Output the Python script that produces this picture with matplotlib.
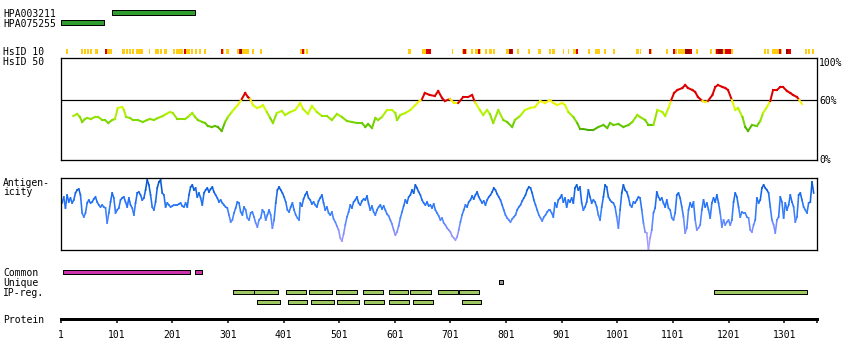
import matplotlib.pyplot as plt
import numpy as np
from matplotlib.collections import LineCollection
from matplotlib.colors import LinearSegmentedColormap

W, H = 850, 360
seq_len = 1360

# antibody epitope regions (residues)
hpa003211 = [(93, 242)]
hpa075255 = [(1, 78)]

# HsID 10 blocks (start, end) residues
hs10_yellow = [(10, 14), (37, 41), (42, 46), (48, 51), (53, 57), (62, 68), (84, 93),
               (111, 116), (118, 121), (123, 127), (129, 132), (136, 148), (159, 161),
               (170, 177), (179, 183), (186, 192), (202, 206), (208, 220), (226, 233),
               (235, 238), (242, 246), (249, 253), (258, 262), (292, 294), (298, 303),
               (317, 321), (327, 339), (344, 348), (359, 363), (431, 434), (438, 440),
               (442, 445), (625, 630), (650, 657), (704, 706), (722, 724), (729, 731),
               (738, 742), (745, 751), (754, 756), (763, 767), (771, 776), (778, 781),
               (801, 807), (821, 825), (841, 844), (859, 864), (878, 882), (884, 889),
               (904, 905), (913, 914), (922, 927), (949, 952), (961, 970), (977, 981),
               (993, 997), (1035, 1040), (1042, 1044), (1062, 1064), (1089, 1093),
               (1105, 1109), (1110, 1123), (1143, 1146), (1168, 1172), (1177, 1179),
               (1191, 1195), (1206, 1209), (1265, 1269), (1270, 1274), (1279, 1292),
               (1296, 1297), (1338, 1342), (1344, 1347), (1351, 1355)]
hs10_red = [(80, 84), (222, 226), (289, 292), (321, 323), (434, 438), (657, 666),
            (724, 729), (751, 754), (812, 814), (927, 931), (1058, 1062), (1101, 1105),
            (1132, 1136), (1179, 1182), (1190, 1191), (1195, 1206), (1292, 1296),
            (1308, 1314)]
hs10_dark = [(323, 327), (807, 812), (1123, 1132), (1182, 1190), (1305, 1308)]

# HsID 50 (% identity)
id50_pos = [23, 30, 35, 39, 44, 48, 55, 62, 68, 75, 80, 86, 93, 98, 103, 111, 114, 118, 125,
            130, 139, 148, 156, 161, 168, 175, 184, 190, 197, 202, 210, 215, 224, 229, 237,
            242, 247, 255, 260, 265, 272, 278, 283, 290, 296, 301, 308, 314, 319, 326, 332,
            337, 341, 346, 353, 359, 364, 371, 377, 382, 389, 398, 404, 413, 422, 431, 436,
            445, 452, 461, 470, 479, 488, 497, 506, 515, 524, 533, 542, 548, 553, 560, 566,
            571, 578, 587, 596, 602, 605, 611, 620, 629, 638, 643, 650, 655, 664, 673, 679,
            686, 691, 700, 708, 715, 724, 733, 740, 745, 754, 760, 767, 772, 778, 787, 796,
            803, 812, 817, 826, 835, 844, 853, 862, 871, 880, 886, 893, 902, 907, 913, 922,
            929, 934, 940, 949, 958, 967, 976, 983, 988, 994, 1003, 1012, 1021, 1028, 1037,
            1042, 1051, 1057, 1066, 1073, 1082, 1087, 1093, 1098, 1103, 1109, 1118, 1123,
            1128, 1136, 1141, 1146, 1154, 1159, 1164, 1172, 1177, 1182, 1190, 1195, 1200,
            1207, 1213, 1218, 1226, 1231, 1236, 1243, 1252, 1258, 1263, 1270, 1276, 1281,
            1288, 1294, 1299, 1306, 1312, 1317, 1324, 1328, 1333]
id50_val = [44, 46, 43, 38, 41, 42, 41, 43, 43, 40, 40, 37, 40, 41, 52, 53, 50, 43, 42,
            40, 40, 38, 40, 41, 40, 42, 44, 46, 48, 47, 41, 41, 41, 43, 47,
            43, 40, 38, 37, 34, 33, 34, 33, 29, 38, 43, 48, 52, 55, 61, 67,
            63, 61, 55, 52, 53, 55, 48, 42, 37, 47, 49, 45, 48, 50, 57, 51,
            46, 54, 48, 44, 44, 40, 46, 43, 39, 38, 37, 37, 33, 36, 32, 42,
            40, 43, 50, 50, 47, 40, 45, 47, 50, 55, 58, 61, 67, 65, 64, 69,
            62, 59, 61, 57, 57, 63, 63, 65, 58, 50, 45, 50, 46, 37, 50, 40,
            38, 33, 40, 44, 50, 52, 53, 59, 57, 60, 57, 55, 57, 55, 48, 43,
            37, 31, 31, 30, 30, 33, 35, 32, 37, 35, 36, 33, 35, 38, 45,
            43, 40, 35, 35, 50, 48, 44, 52, 60, 67, 70, 72, 75,
            72, 70, 68, 63, 59, 58, 59, 65, 73, 75, 73, 72, 70,
            60, 50, 52, 43, 33, 29, 35, 34, 39, 47, 53, 59, 70,
            70, 73, 73, 69, 67, 65, 63, 60, 56]

# antigenicity score, every 3rd residue, in three read-off stretches
antig_a_start = 3
antig_a = [47, 53, 42, 55, 48, 52, 47, 50, 57, 60, 61, 55, 37, 33, 37, 47, 50, 47, 48, 51,
           53, 48, 45, 43, 45, 43, 42, 27, 37, 48, 57, 52, 37, 40, 42, 50, 52, 53, 48, 43,
           52, 45, 42, 35, 47, 57, 58, 55, 50, 52, 60, 70, 65, 55, 43, 40, 48, 62, 68, 70,
           57, 55, 43, 47, 45, 43, 44, 45, 45, 45, 46, 47, 44, 43, 47, 43, 55, 63, 65, 60,
           62, 53, 57, 52, 45, 57, 60, 62, 58, 61, 63, 58, 55, 52, 48, 50, 47, 45, 43, 42,
           35, 28, 30, 37, 42, 48, 47, 38, 35, 43, 40, 32, 30, 37, 38, 33, 27, 23, 30, 32,
           40, 38, 30, 35, 40, 35, 22, 30, 47, 60, 63, 60, 57, 53, 48, 40, 38, 43, 47, 40,
           35, 32, 30]
antig_b_start = 431
antig_b = [47, 44, 51, 55, 58, 52, 50, 46, 48, 45, 43, 49, 52, 55, 47, 40, 43, 37, 35, 38,
           31, 28, 24, 20, 12, 9, 16, 25, 33, 38, 45, 42, 48, 50, 53, 47, 45, 49, 51, 50,
           54, 46, 40, 44, 38, 35, 40, 43, 45, 41, 44, 40, 36, 34, 30, 26, 20, 15, 18, 24,
           32, 38, 44, 50, 47, 53, 55, 60, 57, 65, 62, 58, 55, 50, 47, 45, 48, 44, 45, 42,
           46, 40, 37, 34, 30, 32, 27, 25, 22, 20, 18, 14, 12, 10, 13, 20, 28, 35, 40, 45,
           43, 48, 50, 54, 51, 55, 58, 53, 50, 47, 49, 45, 50, 53, 55, 58, 62, 60, 56, 53,
           50, 45, 40, 35, 32, 30, 28, 31, 33, 35, 40, 43, 45, 49, 52, 55, 60, 63, 62, 57,
           50, 45, 40, 35, 32, 29, 33, 35, 38, 40]
antig_c_start = 880
antig_c = [40, 37, 33, 47, 43, 50, 52, 55, 48, 52, 43, 50, 48, 52, 47, 62, 65, 60, 63, 47,
           40, 43, 48, 60, 53, 47, 50, 48, 43, 35, 30, 43, 53, 65, 63, 53, 50, 48, 47, 43,
           33, 22, 40, 57, 65, 60, 58, 53, 45, 43, 48, 47, 50, 53, 52, 40, 27, 18, 17, 0,
           12, 20, 37, 42, 58, 53, 50, 52, 47, 43, 50, 42, 40, 32, 30, 37, 55, 57, 52, 43,
           33, 17, 22, 40, 47, 43, 48, 30, 20, 22, 25, 40, 50, 43, 47, 40, 32, 47, 52, 48,
           55, 47, 37, 23, 30, 25, 28, 30, 25, 30, 48, 57, 53, 43, 33, 38, 37, 37, 33, 32,
           20, 18, 25, 30, 52, 47, 50, 62, 65, 62, 60, 57, 43, 30, 25, 17, 30, 33, 53, 48,
           32, 47, 40, 45, 55, 48, 43, 28, 33, 55, 57, 50, 43, 40, 37, 47, 48, 68, 57]
antig_step = 3

common = [(4, 233), (242, 254)]
unique = [(789, 796)]
ipreg_row1 = [(311, 348), (348, 391), (405, 441), (447, 489), (496, 533), (543, 579),
              (590, 624), (629, 666), (679, 714), (717, 752), (1174, 1342)]
ipreg_row2 = [(354, 394), (409, 444), (451, 492), (498, 536), (546, 582), (591, 627),
              (633, 669), (721, 756)]
prot_ticks = [1, 101, 201, 301, 401, 501, 601, 701, 801, 901, 1001, 1101, 1201, 1301]

FONT = dict(family='DejaVu Sans Mono', size=7, color='black')
PX = 0.72  # points per pixel at 100 dpi

fig = plt.figure(figsize=(W / 100, H / 100), dpi=100)


def ax_px(x0, y0, x1, y1):
    return fig.add_axes([x0 / W, 1 - y1 / H, (x1 - x0) / W, (y1 - y0) / H])


def label(x, y, s, ha='left'):
    fig.text(x / W, 1 - y / H, s, ha=ha, va='baseline', **FONT)


def spans(pairs):
    return [(a, b - a) for a, b in pairs]


# tracks drawn in pixel rows
tr = ax_px(61, 0, 817, H)
tr.set_xlim(1, seq_len)
tr.set_ylim(H, 0)
tr.axis('off')
bar_kw = dict(edgecolor='black', linewidth=PX)
tr.broken_barh(spans(hpa003211), (10, 5), facecolor='#2f9e2f', **bar_kw)
tr.broken_barh(spans(hpa075255), (20, 5), facecolor='#2f9e2f', **bar_kw)
tr.broken_barh(spans(hs10_yellow), (49, 5), facecolor='#ffcc11')
tr.broken_barh(spans(hs10_red), (49, 5), facecolor='#dd0000')
tr.broken_barh(spans(hs10_dark), (49, 5), facecolor='#990000')
tr.broken_barh(spans(common), (270, 4), facecolor='#cc33aa', **bar_kw)
tr.broken_barh(spans(unique), (280, 4), facecolor='#999999', **bar_kw)
tr.broken_barh(spans(ipreg_row1), (290, 4), facecolor='#9dc862', **bar_kw)
tr.broken_barh(spans(ipreg_row2), (300, 4), facecolor='#9dc862', **bar_kw)


def colored_line(ax, x, y, colors, lw):
    pts = np.column_stack([x, y])
    segs = np.stack([pts[:-1], pts[1:]], axis=1)
    ax.add_collection(LineCollection(segs, colors=colors, linewidth=lw, capstyle='projecting'))


# HsID 50 panel
a50 = ax_px(61, 58, 817, 160)
a50.set_xlim(1, seq_len)
a50.set_ylim(0, 102)
a50.axhline(60, color='black', linewidth=PX * 1.2)
id50_cmap = LinearSegmentedColormap.from_list(
    'id50', ['#3d9900', '#66cc00', '#99e600', '#ccff00', '#ffee00'])
v = np.array(id50_val, float)
mid = (v[:-1] + v[1:]) / 2
cols = id50_cmap(np.clip((mid - 27) / 33, 0, 1))
cols[mid >= 60] = (0.87, 0, 0, 1)
colored_line(a50, np.array(id50_pos, float), v, cols, 2 * PX)
a50.set_xticks([])
a50.set_yticks([])
for s in a50.spines.values():
    s.set_linewidth(1.3 * PX)
label(819, 66, '100%')
label(819, 103.5, '60%')
label(819, 163.5, '0%')

# antigenicity panel
aa = ax_px(61, 178, 817, 250)
aa.set_xlim(1, seq_len)
aa.set_ylim(0, 72)
ant_cmap = LinearSegmentedColormap.from_list(
    'ant', ['#b4a8ff', '#8c90ff', '#3c82ff', '#1a6cf2', '#0050c4'])
ant_pos = np.concatenate([antig_a_start + antig_step * np.arange(len(antig_a)),
                          antig_b_start + antig_step * np.arange(len(antig_b)),
                          antig_c_start + antig_step * np.arange(len(antig_c))])
av = np.array(antig_a + antig_b + antig_c, float)
amid = (av[:-1] + av[1:]) / 2
colored_line(aa, ant_pos, av, ant_cmap(np.clip(amid / 70, 0, 1)), 1.6 * PX)
aa.set_xticks([])
aa.set_yticks([])
for s in aa.spines.values():
    s.set_linewidth(1.3 * PX)

# protein axis
ap = ax_px(61, 300, 817, 319)
ap.set_xlim(1, seq_len)
ap.set_ylim(0, 1)
for side in ['top', 'left', 'right']:
    ap.spines[side].set_visible(False)
ap.spines['bottom'].set_linewidth(3 * PX)
ap.patch.set_visible(False)
ap.set_yticks([])
ap.set_xticks(prot_ticks)
ap.set_xticks([seq_len], minor=True)
ap.tick_params(axis='x', which='both', direction='out', length=4 * PX, width=1.5 * PX,
               labelsize=7, pad=7 * PX)
for t in ap.get_xticklabels():
    t.set_family('DejaVu Sans Mono')

# row labels
label(3, 17, 'HPA003211')
label(3, 27, 'HPA075255')
label(3, 55, 'HsID 10')
label(3, 65, 'HsID 50')
label(3, 186, 'Antigen-')
label(3, 195.5, 'icity')
label(3, 276, 'Common')
label(3, 286, 'Unique')
label(3, 296, 'IP-reg.')
label(3, 323, 'Protein')

fig.savefig('out.png', dpi=100)
